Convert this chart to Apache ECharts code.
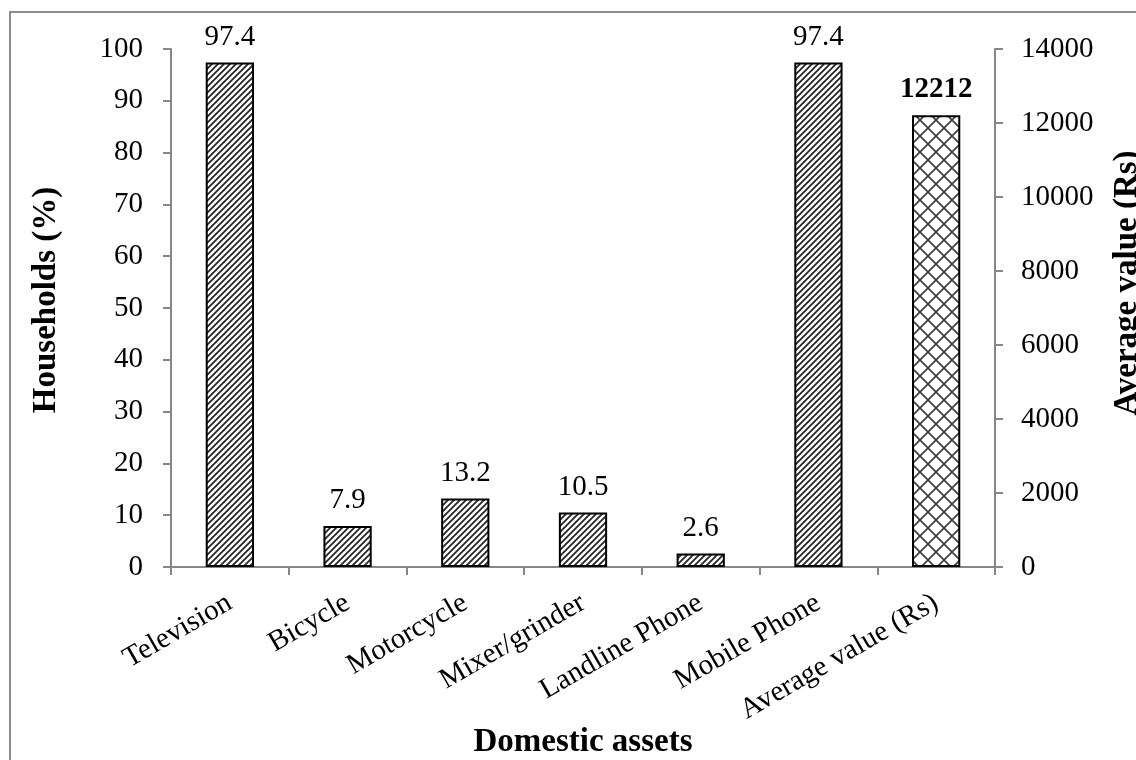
<!DOCTYPE html>
<html>
<head>
<meta charset="utf-8">
<script src="https://cdn.jsdelivr.net/npm/echarts@6/dist/echarts.min.js"></script>
<style>
  html, body { margin: 0; padding: 0; background: #fff; }
  #chart { width: 1136px; height: 760px; }
</style>
</head>
<body>
<div id="chart"></div>
<script>
// Share of households owning each asset (%), and average asset value (Rs)
const categories = ['Television', 'Bicycle', 'Motorcycle', 'Mixer/grinder', 'Landline Phone', 'Mobile Phone', 'Average value (Rs)'];
const householdsPct = [97.4, 7.9, 13.2, 10.5, 2.6, 97.4, null];
const averageValue = [null, null, null, null, null, null, 12212];
const leftTicks = { min: 0, max: 100, interval: 10 };
const rightTicks = { min: 0, max: 14000, interval: 2000 };

const FONT = '"Liberation Serif", "Times New Roman", serif';

// Diagonal "/" hatch fill
function diagonalHatch() {
  const s = 6;
  const c = document.createElement('canvas');
  c.width = s; c.height = s;
  const g = c.getContext('2d');
  g.fillStyle = '#fff';
  g.fillRect(0, 0, s, s);
  g.strokeStyle = '#262626';
  g.lineWidth = 1.8;
  g.beginPath();
  g.moveTo(-1, s + 1); g.lineTo(s + 1, -1);
  g.moveTo(-1, 1); g.lineTo(1, -1);
  g.moveTo(s - 1, s + 1); g.lineTo(s + 1, s - 1);
  g.stroke();
  return c;
}

// Diamond cross-hatch fill
function crossHatch() {
  const s = 16;
  const c = document.createElement('canvas');
  c.width = s; c.height = s;
  const g = c.getContext('2d');
  g.fillStyle = '#fff';
  g.fillRect(0, 0, s, s);
  g.strokeStyle = '#3a3a3a';
  g.lineWidth = 1.6;
  g.beginPath();
  g.moveTo(0, 0); g.lineTo(s, s);
  g.moveTo(0, s); g.lineTo(s, 0);
  g.stroke();
  return c;
}

const chart = echarts.init(document.getElementById('chart'), null, { renderer: 'canvas' });

const axisGray = '#878787';
const labelStyle = { fontFamily: FONT, fontSize: 29, color: '#000' };

chart.setOption({
  backgroundColor: '#fff',
  animation: false,
  grid: { left: 171, right: 141, top: 49, bottom: 193, containLabel: false },
  xAxis: {
    type: 'category',
    data: categories,
    axisLine: { lineStyle: { color: axisGray, width: 2 } },
    axisTick: { show: true, length: 8, lineStyle: { color: axisGray, width: 2 } },
    axisLabel: Object.assign({ rotate: 30, margin: 34, interval: 0 }, labelStyle)
  },
  yAxis: [
    {
      type: 'value',
      min: leftTicks.min, max: leftTicks.max, interval: leftTicks.interval,
      position: 'left',
      axisLine: { show: true, lineStyle: { color: axisGray, width: 2 } },
      axisTick: { show: true, length: 8, lineStyle: { color: axisGray, width: 2 } },
      splitLine: { show: false },
      axisLabel: Object.assign({ margin: 28 }, labelStyle)
    },
    {
      type: 'value',
      min: rightTicks.min, max: rightTicks.max, interval: rightTicks.interval,
      position: 'right',
      axisLine: { show: true, lineStyle: { color: axisGray, width: 2 } },
      axisTick: { show: true, length: 8, lineStyle: { color: axisGray, width: 2 } },
      splitLine: { show: false },
      axisLabel: Object.assign({ margin: 26, formatter: v => String(v) }, labelStyle)
    }
  ],
  series: [
    {
      name: 'Households (%)',
      type: 'bar',
      yAxisIndex: 0,
      data: householdsPct,
      barWidth: '41%',
      barGap: '-100%',
      itemStyle: {
        color: { image: diagonalHatch(), repeat: 'repeat' },
        borderColor: '#000',
        borderWidth: 2
      },
      label: Object.assign({ show: true, position: 'top', distance: 11 }, labelStyle)
    },
    {
      name: 'Average value (Rs)',
      type: 'bar',
      yAxisIndex: 1,
      data: averageValue,
      barWidth: '41%',
      barGap: '-100%',
      itemStyle: {
        color: { image: crossHatch(), repeat: 'repeat' },
        borderColor: '#000',
        borderWidth: 2
      },
      label: Object.assign({ show: true, position: 'top', distance: 11, fontWeight: 'bold' }, labelStyle)
    }
  ],
  graphic: [
    {
      type: 'rect',
      shape: { x: 10, y: 12, width: 1200, height: 800 },
      style: { fill: null, stroke: '#8c8c8c', lineWidth: 2 },
      silent: true, z: -1
    },
    {
      type: 'text',
      x: 46, y: 300, rotation: Math.PI / 2,
      style: { text: 'Households (%)', font: 'bold 33px ' + FONT, fill: '#000', align: 'center', verticalAlign: 'middle' }
    },
    {
      type: 'text',
      x: 1127, y: 283, rotation: Math.PI / 2,
      style: { text: 'Average value (Rs)', font: 'bold 33px ' + FONT, fill: '#000', align: 'center', verticalAlign: 'middle' }
    },
    {
      type: 'text',
      x: 583, y: 742,
      style: { text: 'Domestic assets', font: 'bold 33px ' + FONT, fill: '#000', align: 'center', verticalAlign: 'middle' }
    }
  ]
});
</script>
</body>
</html>
